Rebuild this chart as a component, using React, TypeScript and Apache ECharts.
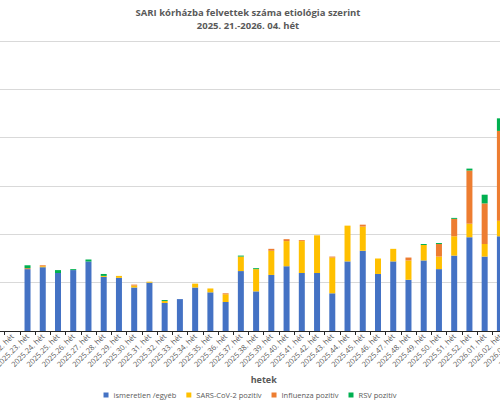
import React, { useEffect, useRef } from "react";
import * as echarts from "echarts";

const weeks = [
  "2025.21. hét", "2025.22. hét", "2025.23. hét", "2025.24. hét", "2025.25. hét", "2025.26. hét",
  "2025.27. hét", "2025.28. hét", "2025.29. hét", "2025.30. hét", "2025.31. hét", "2025.32. hét",
  "2025.33. hét", "2025.34. hét", "2025.35. hét", "2025.36. hét", "2025.37. hét", "2025.38. hét",
  "2025.39. hét", "2025.40. hét", "2025.41. hét", "2025.42. hét", "2025.43. hét", "2025.44. hét",
  "2025.45. hét", "2025.46. hét", "2025.47. hét", "2025.48. hét", "2025.49. hét", "2025.50. hét",
  "2025.51. hét", "2025.52. hét", "2026.01. hét", "2026.02. hét", "2026.03. hét", "2026.04. hét",
];

// weeks 21, 22 and 2026/03, 04 lie outside the visible crop of the reference
const unknownOther = [
  null, null, 64, 66, 60, 63, 72, 56, 55, 45, 50, 29, 33, 45, 40, 30, 62, 41,
  58, 67, 60, 60, 39, 72, 83, 59, 72, 53, 73, 64, 78, 97, 77, 98, null, null,
];
const sarsCov2 = [
  null, null, 0, 1, 0, 0, 0, 1, 2, 2, 1, 2, 0, 4, 4, 8, 15, 23,
  25, 26, 33, 39, 37, 37, 25, 16, 13, 20, 16, 13, 20, 14, 13, 16, null, null,
];
const influenza = [
  null, null, 1, 1, 0, 0, 0, 0, 0, 1, 0, 0, 0, 0, 0, 1, 0, 0,
  2, 2, 1, 0, 1, 0, 2, 0, 0, 3, 0, 13, 18, 55, 42, 93, null, null,
];
const rsv = [
  null, null, 3, 0, 3, 1, 2, 2, 0, 0, 0, 1, 0, 0, 0, 0, 1, 1,
  0, 0, 0, 0, 0, 0, 0, 0, 0, 0, 1, 1, 1, 2, 9, 13, null, null,
];

const seriesNames = ["ismeretlen /egyéb", "SARS-CoV-2 pozitív", "Influenza pozitív", "RSV pozitív"];
const seriesColors = ["#4472C4", "#FFC000", "#ED7D31", "#00B050"];

// the reference is a crop of a wider chart: the plot runs 38px past each side
const INNER_W = 576;
const OFFSET = 38;

export default function App() {
  const ref = useRef<HTMLDivElement>(null);
  useEffect(() => {
    if (!ref.current) return;
    const chart = echarts.init(ref.current, undefined, { renderer: "svg" });
    const dataSets = [unknownOther, sarsCov2, influenza, rsv];
    chart.setOption({
      animation: false,
      backgroundColor: "#ffffff",
      textStyle: { fontFamily: "Open Sans" },
      title: {
        text: "SARI kórházba felvettek száma etiológia szerint\n2025. 21.-2026. 04. hét",
        left: 243 + OFFSET,
        top: 1,
        textAlign: "center",
        textStyle: {
          fontFamily: "Open Sans",
          fontSize: 9.5,
          fontWeight: "bold",
          color: "#595959",
          lineHeight: 13,
        },
      },
      legend: {
        top: 386,
        left: "center",
        icon: "rect",
        itemWidth: 5,
        itemHeight: 5,
        itemGap: 10,
        textStyle: { fontFamily: "Open Sans", fontSize: 7.5, color: "#595959" },
        data: seriesNames,
      },
      grid: { left: 0, right: 0, top: 41, bottom: 69, containLabel: false },
      xAxis: {
        type: "category",
        data: weeks,
        name: "hetek",
        nameLocation: "middle",
        nameGap: 41,
        nameTextStyle: { fontFamily: "Open Sans", fontSize: 9, fontWeight: "bold", color: "#595959" },
        axisLine: { lineStyle: { color: "#262626", width: 1 } },
        axisTick: { show: true, length: 4, lineStyle: { color: "#262626" } },
        axisLabel: {
          interval: 0,
          rotate: 45,
          fontSize: 7.5,
          color: "#595959",
          margin: 4,
        },
      },
      yAxis: {
        type: "value",
        min: 0,
        max: 300,
        interval: 50,
        axisLabel: { show: false },
        axisLine: { show: false },
        axisTick: { show: false },
        splitLine: { lineStyle: { color: "#d9d9d9", width: 1 } },
      },
      series: seriesNames.map((name, i) => ({
        name,
        type: "bar",
        stack: "total",
        barWidth: 6,
        itemStyle: { color: seriesColors[i] },
        data: dataSets[i],
      })),
    });
    return () => chart.dispose();
  }, []);
  return (
    <div
      style={{
        position: "fixed",
        left: 0,
        top: 0,
        width: 500,
        height: 400,
        overflow: "hidden",
        background: "#ffffff",
      }}
    >
      <div
        ref={ref}
        style={{ position: "absolute", left: -OFFSET, top: 0, width: INNER_W, height: 400 }}
      />
    </div>
  );
}
